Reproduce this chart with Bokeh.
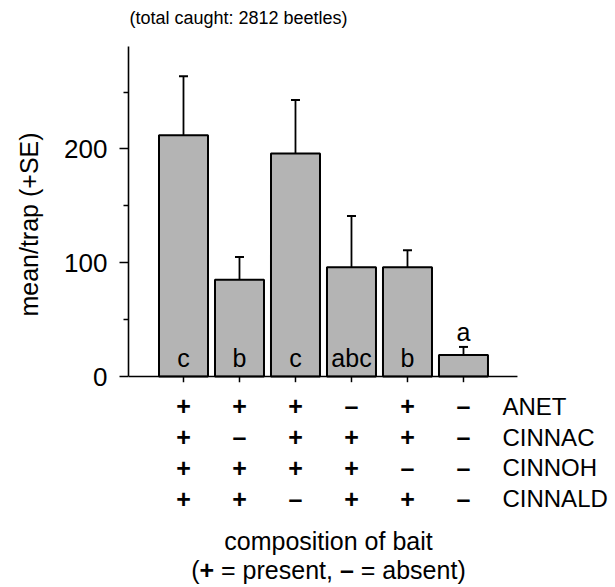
import math
from bokeh.plotting import figure
from bokeh.layouts import row
from bokeh.models import (ColumnDataSource, Range1d, LinearAxis, FixedTicker,
                          Whisker, TeeHead)
from bokeh.core.properties import value
from bokeh.embed import file_html
from bokeh.resources import INLINE

# ---- data ----
treatments = ["T1", "T2", "T3", "T4", "T5", "T6"]
means = [212, 85, 196, 96, 96, 19]
se = [52, 20, 47, 45, 15, 7]
letters = ["c", "b", "c", "abc", "b", "a"]
compounds = ["ANET", "CINNAC", "CINNOH", "CINNALD"]
composition = [
    ["+", "+", "+", "–", "+", "–"],   # ANET
    ["+", "–", "+", "+", "+", "–"],   # CINNAC
    ["+", "+", "+", "+", "–", "–"],   # CINNOH
    ["+", "+", "–", "+", "+", "–"],   # CINNALD
]
y_ticks = [0, 100, 200]
y_minor = [50, 150, 250]
y_top = 290
title_text = "(total caught: 2812 beetles)"
y_label = "mean/trap (+SE)"
x_label = "composition of bait"
legend_parts = ["(", "+", "= present,", "–", "= absent)"]
legend_bold = [False, True, False, True, False]

FONT = "Liberation Sans"
xs = list(range(len(means)))
upper = [m + s for m, s in zip(means, se)]

H = 585
LW = 44          # width of the strip holding the y-axis title
MW = 613 - LW    # width of the main chart

# ---- y-axis title strip ----
lab = figure(width=LW, height=H, x_range=Range1d(0, LW), y_range=Range1d(0, H),
             output_backend="svg", toolbar_location=None,
             x_axis_type=None, y_axis_type=None, min_border=0,
             min_border_left=0, min_border_right=0, min_border_top=0,
             min_border_bottom=0)
lab.outline_line_color = None
lab.grid.visible = False
lab.text(x=[28], y=[H - 224], text=[y_label], angle=math.pi / 2,
         text_font=value(FONT), text_font_size="25px", text_color="black",
         text_align="center", text_baseline="middle")

# ---- main chart ----
p = figure(width=MW, height=H,
           x_range=Range1d(-0.982, 7.679), y_range=Range1d(-183.7, 330.5),
           output_backend="svg", toolbar_location=None,
           x_axis_type=None, y_axis_type=None,
           min_border_left=128 - LW, min_border_right=0,
           min_border_top=0, min_border_bottom=0)
p.outline_line_color = None
p.grid.visible = False

# bars
src = ColumnDataSource(dict(x=xs, top=means, upper=upper, letter=letters))
p.vbar(x="x", top="top", bottom=0, width=0.875, source=src,
       fill_color="#b4b4b4", line_color="black", line_width=2)

# error bars (upper only)
p.add_layout(Whisker(base="x", lower="top", upper="upper", source=src,
                     dimension="height", line_color="black", line_width=1.8,
                     lower_head=None,
                     upper_head=TeeHead(size=9, line_color="black", line_width=2)))

# x axis line and ticks (drawn as glyphs at y = 0)
x_axis_start, x_axis_end = -0.982, 5.964
p.segment(x0=[x_axis_start], y0=[0], x1=[x_axis_end], y1=[0],
          line_color="black", line_width=1.6)
p.segment(x0=xs, y0=[0] * len(xs), x1=xs, y1=[-5] * len(xs),
          line_color="black", line_width=1.5)

# y axis
yax = LinearAxis(ticker=FixedTicker(ticks=y_ticks, minor_ticks=y_minor),
                 bounds=(0, y_top))
yax.axis_line_width = 1.6
yax.major_tick_line_width = 1.5
yax.minor_tick_line_width = 1.5
yax.major_tick_out = 9
yax.major_tick_in = 0
yax.minor_tick_out = 5
yax.minor_tick_in = 0
yax.major_label_text_font = FONT
yax.major_label_text_font_size = "26px"
yax.major_label_text_color = "black"
yax.major_label_standoff = 12
p.add_layout(yax, "left")

txt = dict(text_font=value(FONT), text_color="black",
           text_align="center", text_baseline="middle")

# significance letters: inside bar near base, or above the error bar for short bars
in_idx = [i for i, m in enumerate(means) if m > 40]
out_idx = [i for i, m in enumerate(means) if m <= 40]
p.text(x=[xs[i] for i in in_idx], y=[0] * len(in_idx),
       text=[letters[i] for i in in_idx], y_offset=-19,
       text_font_size="25px", **txt)
p.text(x=[xs[i] for i in out_idx], y=[upper[i] for i in out_idx],
       text=[letters[i] for i in out_idx], y_offset=-15,
       text_font_size="25px", **txt)

# composition table
row_first, row_gap = -26.1, 27.1
for r, (name, row_vals) in enumerate(zip(compounds, composition)):
    yy = row_first - row_gap * r
    p.text(x=xs, y=[yy] * len(xs), text=row_vals, text_font_size="25px",
           text_font_style="bold", **txt)
    p.text(x=[5.696], y=[yy], text=[name], text_font_size="24px",
           text_font=value(FONT), text_color="black",
           text_align="left", text_baseline="middle")

# x label lines
p.text(x=[2.589], y=[-144.2], text=[x_label], text_font_size="25px", **txt)
piece_off = [0.0, 8.3, 8.3 + 14.6 + 6.95, 8.3 + 14.6 + 125.8,
             8.3 + 14.6 + 125.8 + 13.9 + 6.95]
total_w = 274.5
for t, b, off in zip(legend_parts, legend_bold, piece_off):
    p.text(x=[2.589], y=[-170.5], text=[t], x_offset=off - total_w / 2,
           text_font_size="25px", text_font=value(FONT), text_color="black",
           text_font_style="bold" if b else "normal",
           text_align="left", text_baseline="middle")

# title
p.text(x=[0.982], y=[314.8], text=[title_text], text_font_size="18px", **txt)

layout = row(lab, p, spacing=0)
open("out.html", "w").write(file_html(layout, INLINE))
